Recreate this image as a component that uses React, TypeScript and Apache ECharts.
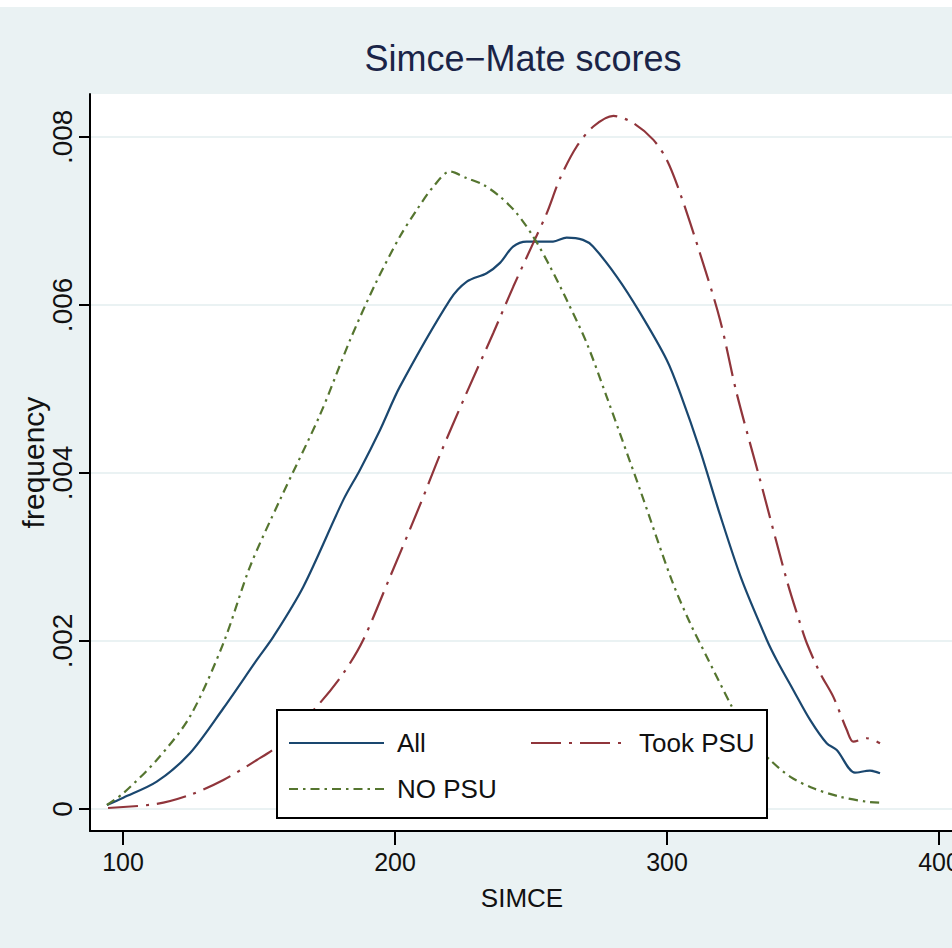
import React, { useEffect, useRef } from 'react';
import * as echarts from 'echarts';

// SIMCE score (x) and density (y) for each group
const allX = [94.1, 100.1, 112.4, 124.6, 136.9, 149.2, 155.3, 166.3, 181.0, 187.1, 194.5, 201.8, 220.2, 226.4, 233.7, 238.6, 243.4, 248.4, 258.1, 263.1, 269.1, 272.8, 281.5, 290.1, 299.9, 304.8, 312.1, 319.5, 327.5, 336.7, 340.3, 346.4, 352.6, 358.7, 362.4, 369.1, 374.6, 378.3];
const allY = [0.000048, 0.000135, 0.000325, 0.000663, 0.001199, 0.001774, 0.002051, 0.002646, 0.003679, 0.004036, 0.004512, 0.005027, 0.00606, 0.006277, 0.006377, 0.0065, 0.006694, 0.006754, 0.006754, 0.006801, 0.006774, 0.006694, 0.006337, 0.005905, 0.005345, 0.004952, 0.004274, 0.0035, 0.002726, 0.002012, 0.001774, 0.001417, 0.00106, 0.000782, 0.000702, 0.000432, 0.000456, 0.000425];

const psuX = [94.5, 112.4, 124.6, 136.9, 149.2, 156.5, 171.2, 181.0, 188.3, 198.2, 209.2, 216.5, 225.7, 236.1, 243.5, 250.8, 255.8, 260.7, 266.8, 272.9, 280.3, 287.6, 295.0, 299.9, 304.8, 312.1, 319.5, 325.6, 334.2, 344.0, 348.9, 351.4, 356.3, 361.1, 366.1, 368.5, 373.4, 378.3];
const psuY = [0.000012, 0.00006, 0.000167, 0.000345, 0.000583, 0.000742, 0.001218, 0.001615, 0.002012, 0.002765, 0.003619, 0.004214, 0.004908, 0.005663, 0.006218, 0.006735, 0.007092, 0.007508, 0.007885, 0.008123, 0.00825, 0.008163, 0.007964, 0.007726, 0.00733, 0.006615, 0.005821, 0.004949, 0.003917, 0.002726, 0.002211, 0.001973, 0.001615, 0.001337, 0.00094, 0.000801, 0.000842, 0.000782];

const noX = [94.1, 100.1, 112.4, 124.6, 136.9, 146.7, 157.7, 172.4, 183.5, 192.6, 201.8, 208.0, 214.1, 220.2, 226.4, 232.5, 238.6, 244.7, 250.8, 257.0, 263.1, 270.5, 277.8, 290.1, 301.7, 308.5, 314.6, 323.2, 330.5, 337.9, 345.2, 353.8, 363.6, 373.4, 378.3];
const noY = [0.000048, 0.000187, 0.000583, 0.001099, 0.001973, 0.002885, 0.003679, 0.00469, 0.005583, 0.006238, 0.006813, 0.007131, 0.007408, 0.007587, 0.007508, 0.007429, 0.007289, 0.007092, 0.006813, 0.006456, 0.00606, 0.005544, 0.004908, 0.003798, 0.002726, 0.002211, 0.001813, 0.001258, 0.000821, 0.000583, 0.000385, 0.000246, 0.000146, 0.000087, 0.000075];

const xTicks = [100, 200, 300, 400];
const yTicks = [0, 0.002, 0.004, 0.006, 0.008];
const yTickLabels = ['0', '.002', '.004', '.006', '.008'];
const seriesNames = ['All', 'Took PSU', 'NO PSU'];

const FONT = "'Liberation Sans', Arial, Helvetica, sans-serif";

const zip = (xs: number[], ys: number[]) => xs.map((x, i) => [x, ys[i]]);

export default function App() {
  const ref = useRef<HTMLDivElement>(null);
  useEffect(() => {
    const chart = echarts.init(ref.current!, null, { renderer: 'svg' });
    const legendCommon = {
      orient: 'vertical',
      top: 715,
      padding: 5,
      itemHeight: 14,
      itemGap: 14,
      z: 60,
      itemStyle: { opacity: 0 },
    };
    const option: any = {
      animation: false,
      backgroundColor: '#eaf2f3',
      title: {
        text: 'Simce\u2212Mate scores',
        left: 518,
        top: 28,
        textAlign: 'center',
        textStyle: { fontFamily: FONT, fontSize: 36, fontWeight: 'normal', color: '#1a2447' },
      },
      grid: {
        left: 90,
        right: -2,
        top: 87,
        bottom: 117,
        outerBoundsMode: 'none',
        containLabel: false,
        show: true,
        backgroundColor: '#ffffff',
        borderWidth: 0,
      },
      xAxis: {
        type: 'value',
        min: 87.87,
        max: 405.5,
        name: 'SIMCE',
        nameLocation: 'middle',
        nameGap: 54,
        nameMoveOverlap: false,
        nameTextStyle: { fontFamily: FONT, fontSize: 26, color: '#111' },
        axisLine: { show: true, onZero: false, lineStyle: { color: '#000', width: 2 } },
        axisTick: { show: true, length: 14, customValues: xTicks, lineStyle: { color: '#000', width: 2 } },
        axisLabel: {
          customValues: xTicks,
          margin: 18,
          fontFamily: FONT,
          fontSize: 25,
          color: '#111',
          showMaxLabel: true,
          showMinLabel: true,
          alignMaxLabel: 'center',
          alignMinLabel: 'center',
        },
        splitLine: { show: false },
      },
      yAxis: {
        type: 'value',
        min: -0.000262,
        max: 0.00851,
        name: 'frequency',
        nameLocation: 'middle',
        nameRotate: 90,
        nameGap: 42,
        nameMoveOverlap: false,
        nameTextStyle: { fontFamily: FONT, fontSize: 30, color: '#111' },
        axisLine: { show: true, onZero: false, lineStyle: { color: '#000', width: 2 } },
        axisTick: { show: true, length: 11, customValues: yTicks, lineStyle: { color: '#000', width: 2 } },
        axisLabel: {
          customValues: yTicks,
          rotate: 90,
          margin: 14,
          fontFamily: FONT,
          fontSize: 28,
          color: '#111',
          formatter: (v: number) => {
            const i = yTicks.findIndex((t) => Math.abs(t - v) < 1e-9);
            return i >= 0 ? yTickLabels[i] : '';
          },
        },
        splitLine: { show: true, lineStyle: { color: '#eaf2f3', width: 2 } },
      },
      legend: [
        {
          ...legendCommon,
          data: [seriesNames[0], seriesNames[2]],
          left: 283,
          itemWidth: 95,
          textStyle: { fontFamily: FONT, fontSize: 26, lineHeight: 32, color: '#111', padding: [0, 0, 0, 8] },
        },
        {
          ...legendCommon,
          data: [seriesNames[1]],
          left: 525,
          itemWidth: 97,
          textStyle: { fontFamily: FONT, fontSize: 26, lineHeight: 32, color: '#111', padding: [0, 0, 0, 6] },
        },
      ],
      graphic: [
        {
          type: 'rect',
          z: 50,
          shape: { x: 277, y: 703, width: 490, height: 108 },
          style: { fill: '#ffffff', stroke: '#000', lineWidth: 2 },
        },
      ],
      series: [
        {
          name: seriesNames[0],
          type: 'line',
          data: zip(allX, allY),
          smooth: 0.3,
          symbol: 'none',
          lineStyle: { color: '#1a476f', width: 2.2, type: 'solid' },
          itemStyle: { color: '#1a476f' },
        },
        {
          name: seriesNames[1],
          type: 'line',
          data: zip(psuX, psuY),
          smooth: 0.3,
          symbol: 'none',
          lineStyle: { color: '#90353b', width: 2.2, type: [30, 8, 3, 8] },
          itemStyle: { color: '#90353b' },
        },
        {
          name: seriesNames[2],
          type: 'line',
          data: zip(noX, noY),
          smooth: 0.3,
          symbol: 'none',
          lineStyle: { color: '#55752f', width: 2.2, type: [9, 5, 2.5, 5] },
          itemStyle: { color: '#55752f' },
        },
      ],
    };
    chart.setOption(option);
    return () => chart.dispose();
  }, []);
  return <div ref={ref} style={{ position: 'fixed', left: 0, top: 7, width: 952, height: 941 }} />;
}
